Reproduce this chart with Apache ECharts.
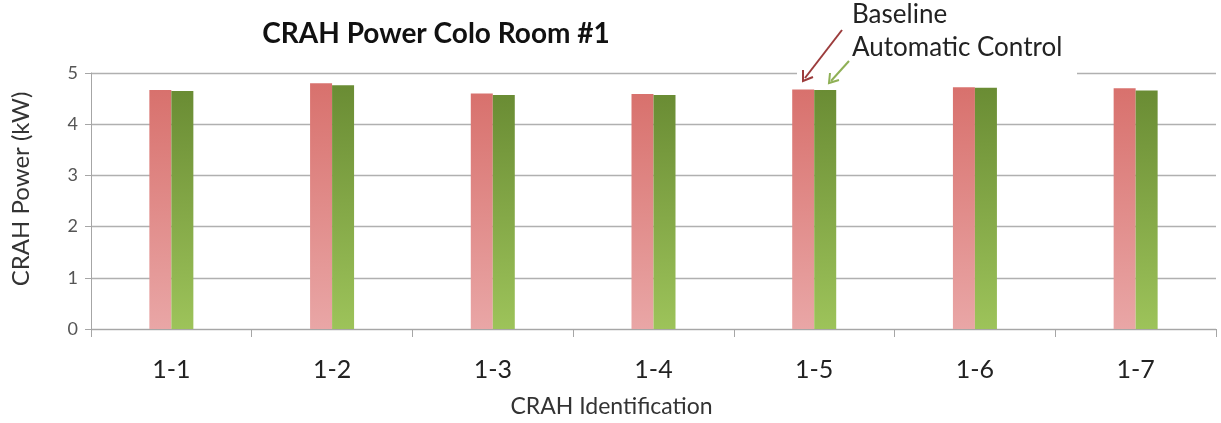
<!DOCTYPE html>
<html><head><meta charset="utf-8">
<script src="https://cdn.jsdelivr.net/npm/echarts@6/dist/echarts.min.js"></script>
<style>html,body{margin:0;padding:0;background:#fff}#c{width:1221px;height:423px}</style>
</head><body><div id="c"></div>
<script>
const categories = ['1-1','1-2','1-3','1-4','1-5','1-6','1-7'];
const baseline = [4.67, 4.80, 4.60, 4.59, 4.68, 4.72, 4.70];
const automatic = [4.65, 4.76, 4.57, 4.57, 4.67, 4.71, 4.66];
const yTicks = [0, 1, 2, 3, 4, 5];

const chart = echarts.init(document.getElementById('c'));
const FONT = 'Lato';
function grad(top, bottom) {
  return new echarts.graphic.LinearGradient(0, 0, 0, 1, [
    {offset: 0, color: top}, {offset: 1, color: bottom}
  ]);
}
chart.setOption({
  animation: false,
  backgroundColor: '#fff',
  title: {
    text: 'CRAH Power Colo Room #1',
    left: 431, top: 15, textAlign: 'center',
    textStyle: {fontFamily: FONT, fontWeight: 'bold', fontSize: 28, color: '#111'}
  },
  grid: {left: 91, right: 5, top: 73, bottom: 92},
  xAxis: {
    type: 'category', data: categories,
    name: 'CRAH Identification', nameLocation: 'middle', nameGap: 66,
    nameTextStyle: {fontFamily: FONT, fontSize: 23, color: '#333', padding: [0, 84, 0, 0]},
    axisLine: {lineStyle: {color: '#a6a6a6', width: 1}},
    axisTick: {show: true, length: 8, lineStyle: {color: '#a6a6a6'}},
    axisLabel: {fontFamily: FONT, fontSize: 25, color: '#222', margin: 28}
  },
  yAxis: {
    type: 'value', min: yTicks[0], max: yTicks[yTicks.length - 1], interval: 1,
    name: 'CRAH Power (kW)', nameLocation: 'middle', nameGap: 58,
    nameTextStyle: {fontFamily: FONT, fontSize: 24, color: '#333', padding: [0, 0, 0, 24]},
    axisLine: {show: true, lineStyle: {color: '#a6a6a6'}},
    axisTick: {show: true, length: 6, lineStyle: {color: '#a6a6a6'}},
    axisLabel: {fontFamily: FONT, fontSize: 18, color: '#555', margin: 13},
    splitLine: {lineStyle: {color: '#b0b0b0', width: 1.3}}
  },
  series: [
    {name: 'Baseline', type: 'bar', data: baseline, barWidth: 22, barGap: '0%',
     itemStyle: {color: grad('#d8716d', '#e9a6a6')}},
    {name: 'Automatic Control', type: 'bar', data: automatic, barWidth: 22,
     itemStyle: {color: grad('#6a8c34', '#9dc35a')}}
  ],
  graphic: [
    {type: 'rect', shape: {x: 797, y: 0, width: 280, height: 75}, style: {fill: '#fff'}, z: 50},
    {type: 'text', x: 852, y: 2, style: {text: 'Baseline', fontFamily: FONT, fontSize: 26, fill: '#222'}, z: 60},
    {type: 'text', x: 852, y: 35, style: {text: 'Automatic Control', fontFamily: FONT, fontSize: 26, fill: '#222'}, z: 60},
    {type: 'line', shape: {x1: 842, y1: 30, x2: 805, y2: 78}, style: {stroke: '#9c3c3c', lineWidth: 2}, z: 60},
    {type: 'polyline', shape: {points: [[803, 70], [803, 81], [813, 77]]}, style: {stroke: '#9c3c3c', lineWidth: 2, fill: null}, z: 60},
    {type: 'line', shape: {x1: 849, y1: 61, x2: 831, y2: 81}, style: {stroke: '#8fb056', lineWidth: 2}, z: 60},
    {type: 'polyline', shape: {points: [[830, 73], [829, 83], [839, 80]]}, style: {stroke: '#8fb056', lineWidth: 2, fill: null}, z: 60}
  ]
});
</script></body></html>
